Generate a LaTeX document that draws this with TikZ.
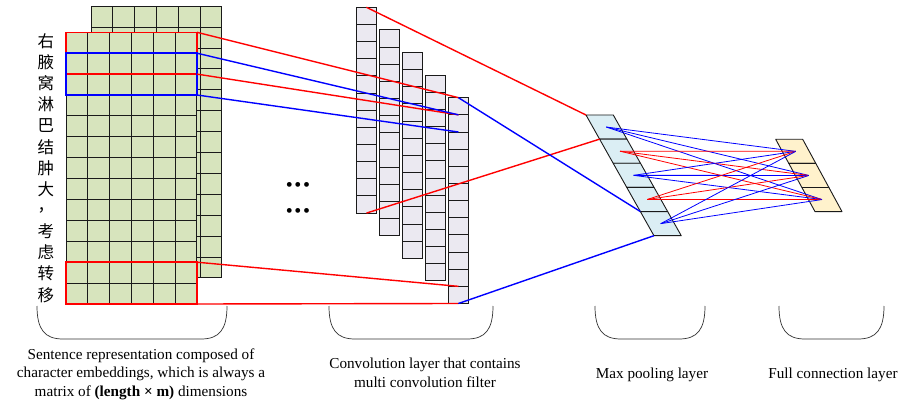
\documentclass[tikz,border=0pt]{standalone}
\usepackage{fontspec}
\setmainfont{Liberation Serif}
\newfontfamily\cjk{Noto Sans CJK SC}
\definecolor{emb}{HTML}{D7E4BD}
\definecolor{conv}{HTML}{EBE9F1}
\definecolor{pool}{HTML}{DBEEF4}
\definecolor{full}{HTML}{FFF2CC}
\definecolor{ink}{HTML}{1A1A1A}
\tikzset{
  gridline/.style={draw=ink, line width=1pt},
  convcell/.style={draw=ink, fill=conv, line width=0.9pt, minimum width=19.5pt, minimum height=17.15pt, inner sep=0pt, outer sep=0pt, anchor=north west},
  filt/.style={line width=1.4pt, minimum width=131pt, inner sep=0pt, outer sep=0pt, anchor=north west},
  link/.style={line width=1.4pt},
  fan/.style={line width=0.8pt},
  slab/.style={draw=ink, line width=0.9pt, line join=round},
  brace/.style={draw=black!80, line width=0.7pt},
  hanzi/.style={font=\cjk\fontsize{16.5}{16.5}\selectfont, inner sep=0pt},
  captxt/.style={font=\fontsize{15.2}{18.5}\selectfont, align=center, inner sep=0pt},
  ellip/.style={font=\fontsize{20}{20}\selectfont, inner sep=0pt},
}

\begin{document}
\begin{tikzpicture}[x=1pt, y=-1pt]
\useasboundingbox (0,0) rectangle (898,401);
\foreach \ox/\oy in {91/6.3, 66/32.3} {
  \fill[emb] (\ox,\oy) rectangle ++(131,271.7);
  \foreach \i in {0,...,6} \draw[gridline] (\ox+21.83*\i,\oy) -- ++(0,271.7);
  \foreach \j in {0,...,13} \draw[gridline] (\ox,\oy+20.9*\j) -- ++(131,0);
}
\node[filt, draw=red, minimum height=41.8pt] (fr1) at (66,32.3) {};
\node[filt, draw=blue, minimum height=41.8pt] (fb1) at (66,53.2) {};
\node[filt, draw=red, minimum height=41.8pt] (fr2) at (66,262.2) {};
\foreach \c [count=\i from 0] in {右,腋,窝,淋,巴,结,肿,大,，,考,虑,转,移}
  \node[hanzi] (h\i) at (46,41+21.15*\i) {\c};
\foreach \k in {0,...,4}
  \foreach \j in {1,...,12}
    \node[convcell] (c\k-\j) at (356.7+23*\k, 7.3+22.6*\k+17.15*\j-17.15) {};
\node[ellip] (dots1) at (298,187) {\textbullet\kern1.6pt\textbullet\kern1.6pt\textbullet};
\node[ellip] (dots2) at (298,213) {\textbullet\kern1.6pt\textbullet\kern1.6pt\textbullet};
\foreach \i in {0,...,4}
  \draw[slab, fill=pool] (586+13.59*\i, 115+24.14*\i) -- ++(27.3,0) -- ++(13.59,24.14) -- ++(-27.3,0) -- cycle;
\foreach \i in {0,...,5} \coordinate (pl\i) at (586+13.59*\i, 115+24.14*\i);
\foreach \i in {1,...,5} \coordinate (pc\i) at (592.85+13.59*\i, 102.93+24.14*\i);
\foreach \i in {0,...,2}
  \draw[slab, fill=full] (775.7+13.1*\i, 139.3+24.1*\i) -- ++(27,0) -- ++(13.1,24.1) -- ++(-27,0) -- cycle;
\foreach \i in {1,2,3} \coordinate (fc\i) at (782.65+13.1*\i, 127.25+24.1*\i);
\draw[link, red] (fr1.north east) -- (c4-1.north);
\draw[link, red] (fr1.south east) -- (c4-1.south);
\draw[link, blue] (fb1.north east) -- (c4-2.north);
\draw[link, blue] (fb1.south east) -- (c4-2.south);
\draw[link, red] (fr2.north east) -- (c4-12.north);
\draw[link, red] (fr2.south east) -- (c4-12.south);
\draw[link, red] (c0-1.north) -- (pl0);
\draw[link, red] (c0-12.south) -- (pl1);
\draw[link, blue] (c4-1.north) -- (pl4);
\draw[link, blue] (c4-12.south) -- (pl5);
\foreach \i/\col in {1/blue, 2/red, 3/blue, 4/red, 5/blue}
  \foreach \j in {1,2,3} \draw[fan, \col] (pc\i) -- (fc\j);
\foreach \l/\r in {37/227, 329/493, 595/705, 779/884}
  \draw[brace] (\l,306) .. controls (\l,330) and (\l+8,339) .. (\l+26,339) -- (\r-26,339) .. controls (\r-8,339) and (\r,330) .. (\r,306);
\node[captxt] (cap1) at (141,374) {Sentence representation composed of\\character embeddings, which is always a\\matrix of \textbf{(length × m)} dimensions};
\node[captxt] (cap2) at (425,373) {Convolution layer that contains\\multi convolution filter};
\node[captxt] (cap3) at (652,375) {Max pooling layer};
\node[captxt] (cap4) at (833,375) {Full connection layer};
\end{tikzpicture}
\end{document}
